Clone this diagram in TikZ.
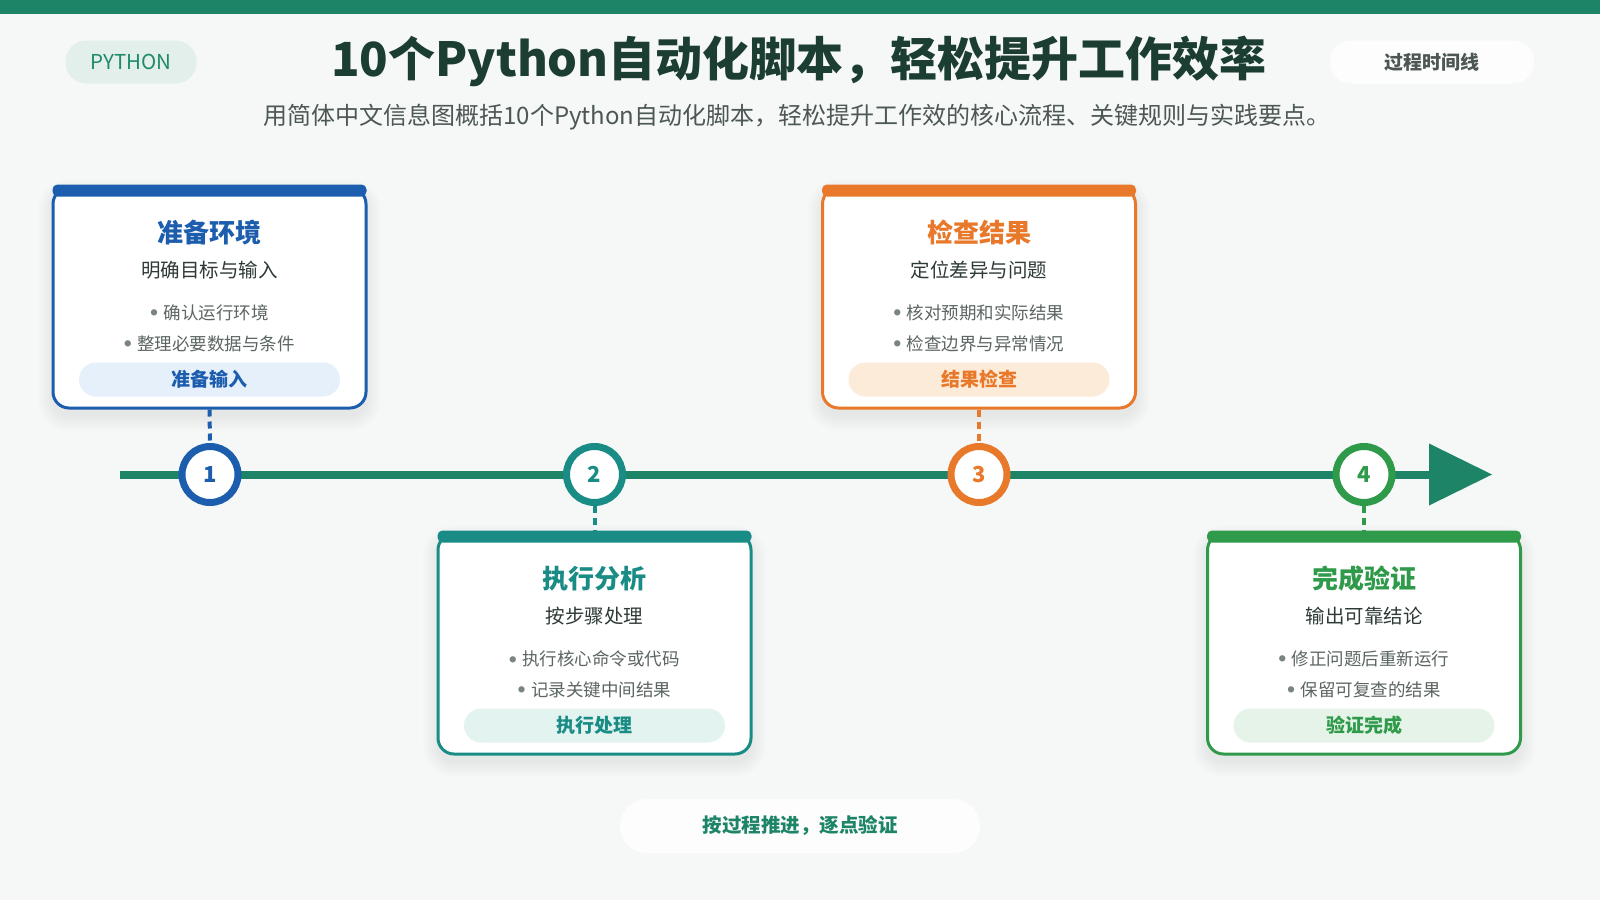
\documentclass[tikz,border=0pt]{standalone}
\usepackage{fontspec}
\setmainfont{Noto Sans CJK SC}
\definecolor{bgc}{HTML}{F5F8F7}
\definecolor{mainG}{HTML}{1D8468}
\definecolor{titleC}{HTML}{1C3D32}
\definecolor{subC}{HTML}{4D5753}
\definecolor{darkT}{HTML}{2D3A36}
\definecolor{badgeT}{HTML}{4C5753}
\definecolor{greyT}{HTML}{5B6562}
\definecolor{dotC}{HTML}{7A8580}
\definecolor{pyFill}{HTML}{E3EFEB}
\definecolor{pyText}{HTML}{1F8A6A}
\definecolor{blueC}{HTML}{1C5DAE}
\definecolor{blueT}{HTML}{E6F0FB}
\definecolor{tealC}{HTML}{1A8C86}
\definecolor{tealT}{HTML}{E2F3F0}
\definecolor{oranC}{HTML}{E8792A}
\definecolor{oranT}{HTML}{FDEBD9}
\definecolor{grnC}{HTML}{2E9A4A}
\definecolor{grnT}{HTML}{E5F3E8}
\tikzset{
  stagecard/.style={draw=#1, rounded corners=16pt, line width=3pt, fill=white,
    minimum width=313pt, minimum height=220pt, inner sep=0pt},
  stagedot/.style={circle, draw=#1, text=#1, line width=7pt, fill=white, minimum size=56pt, inner sep=0pt,
    font=\bfseries\fontsize{22}{22}\selectfont},
  ctitle/.style={text=#1, font=\bfseries\fontsize{26}{26}\selectfont, inner sep=0pt},
  csub/.style={text=darkT, font=\fontsize{19.5}{20}\selectfont, inner sep=0pt},
  cbullet/.style={text=greyT, font=\fontsize{17.5}{18}\selectfont, inner sep=0pt},
  cpill/.style={fill=#1, rounded corners=17pt, minimum width=261pt, minimum height=34pt, inner sep=0pt},
  cpilltext/.style={text=#1, font=\bfseries\fontsize{19}{19}\selectfont},
  linkline/.style={draw=#1, line width=4pt, dash pattern=on 7pt off 5pt},
  softpill/.style={fill=white, fill opacity=0.85, text opacity=1, rounded corners=21pt, inner sep=0pt},
  shadowlayer/.style={fill=black, fill opacity=0.007}
}
\newcommand{\bul}{\raisebox{3.2pt}{\color{dotC}\fontsize{7}{7}\selectfont ●}\hspace{6pt}}
\begin{document}
\begin{tikzpicture}[x=1pt,y=-1pt]
\useasboundingbox (0,0) rectangle (1600,900);
\fill[bgc] (0,0) rectangle (1600,900);
\fill[mainG] (0,0) rectangle (1600,14);

% header
\node[fill=pyFill, rounded corners=21pt, minimum width=131pt, minimum height=43pt, inner sep=0pt,
  text=pyText, font=\fontsize{20.5}{21}\selectfont] (tag) at (131,62) {PYTHON};
\node[text=titleC, font=\bfseries\fontsize{47}{47}\selectfont] (title) at (799,61)
  {10个Python自动化脚本，轻松提升工作效率};
\node[text=subC, font=\fontsize{24}{24}\selectfont] (subtitle) at (797,117)
  {用简体中文信息图概括10个Python自动化脚本，轻松提升工作效的核心流程、关键规则与实践要点。};
\node[softpill, minimum width=204pt, minimum height=43pt, text=badgeT,
  font=\bfseries\fontsize{19}{19}\selectfont] (badge) at (1432,62) {过程时间线};

% timeline
\coordinate (tl0) at (120,474.5);
\coordinate (tl1) at (1436,474.5);
\coordinate (tip) at (1492,474.5);
\draw[mainG, line width=8pt] (tl0) -- (tl1);
\fill[mainG] (1429,443.5) -- (tip) -- (1429,505.5) -- cycle;

% soft card shadows
\foreach \cx/\cy in {209.5/298, 594.5/644, 979/298, 1364/644}{
  \foreach \s in {1,3,...,15}{
    \fill[shadowlayer, rounded corners=16pt+\s pt]
      (\cx-156.5-\s, \cy-104-\s) rectangle (\cx+156.5+\s, \cy+118+\s);
  }
}

% cards
\node[stagecard=blueC] (k1) at (209.5,298) {};
\node[stagecard=tealC] (k2) at (594.5,644) {};
\node[stagecard=oranC] (k3) at (979,298) {};
\node[stagecard=grnC] (k4) at (1364,644) {};
\foreach \k/\c in {k1/blueC,k2/tealC,k3/oranC,k4/grnC}{
  \fill[\c, rounded corners=5pt] ([xshift=1pt,yshift=2pt]\k.north west) rectangle ([xshift=-1pt,yshift=-10pt]\k.north east);
}

% circles
\node[stagedot=blueC] (c1) at (210,474.5) {1};
\node[stagedot=tealC] (c2) at (594.5,474.5) {2};
\node[stagedot=oranC] (c3) at (979,474.5) {3};
\node[stagedot=grnC] (c4) at (1364,474.5) {4};

% connectors
\draw[linkline=blueC] (k1.south) -- (c1.north);
\draw[linkline=tealC] (c2.south) -- (k2.north);
\draw[linkline=oranC] (k3.south) -- (c3.north);
\draw[linkline=grnC] (c4.south) -- (k4.north);

% card 1
\node[ctitle=blueC] (t1) at ([yshift=-46pt]k1.north) {准备环境};
\node[csub] (s1) at ([yshift=-84pt]k1.north) {明确目标与输入};
\node[cbullet] (b1a) at ([yshift=-126pt]k1.north) {\bul 确认运行环境};
\node[cbullet] (b1b) at ([yshift=-157pt]k1.north) {\bul 整理必要数据与条件};
\node[cpill=blueT] (p1) at ([yshift=-193pt]k1.north) {};
\node[cpilltext=blueC] (pt1) at (p1) {准备输入};

% card 2
\node[ctitle=tealC] (t2) at ([yshift=-46pt]k2.north) {执行分析};
\node[csub] (s2) at ([yshift=-84pt]k2.north) {按步骤处理};
\node[cbullet] (b2a) at ([yshift=-126pt]k2.north) {\bul 执行核心命令或代码};
\node[cbullet] (b2b) at ([yshift=-157pt]k2.north) {\bul 记录关键中间结果};
\node[cpill=tealT] (p2) at ([yshift=-193pt]k2.north) {};
\node[cpilltext=tealC] (pt2) at (p2) {执行处理};

% card 3
\node[ctitle=oranC] (t3) at ([yshift=-46pt]k3.north) {检查结果};
\node[csub] (s3) at ([yshift=-84pt]k3.north) {定位差异与问题};
\node[cbullet] (b3a) at ([yshift=-126pt]k3.north) {\bul 核对预期和实际结果};
\node[cbullet] (b3b) at ([yshift=-157pt]k3.north) {\bul 检查边界与异常情况};
\node[cpill=oranT] (p3) at ([yshift=-193pt]k3.north) {};
\node[cpilltext=oranC] (pt3) at (p3) {结果检查};

% card 4
\node[ctitle=grnC] (t4) at ([yshift=-46pt]k4.north) {完成验证};
\node[csub] (s4) at ([yshift=-84pt]k4.north) {输出可靠结论};
\node[cbullet] (b4a) at ([yshift=-126pt]k4.north) {\bul 修正问题后重新运行};
\node[cbullet] (b4b) at ([yshift=-157pt]k4.north) {\bul 保留可复查的结果};
\node[cpill=grnT] (p4) at ([yshift=-193pt]k4.north) {};
\node[cpilltext=grnC] (pt4) at (p4) {验证完成};

% footer
\node[softpill, rounded corners=27pt, minimum width=360pt, minimum height=54pt, text=mainG,
  font=\bfseries\fontsize{19.5}{20}\selectfont] (foot) at (800,826) {按过程推进，逐点验证};
\end{tikzpicture}
\end{document}
